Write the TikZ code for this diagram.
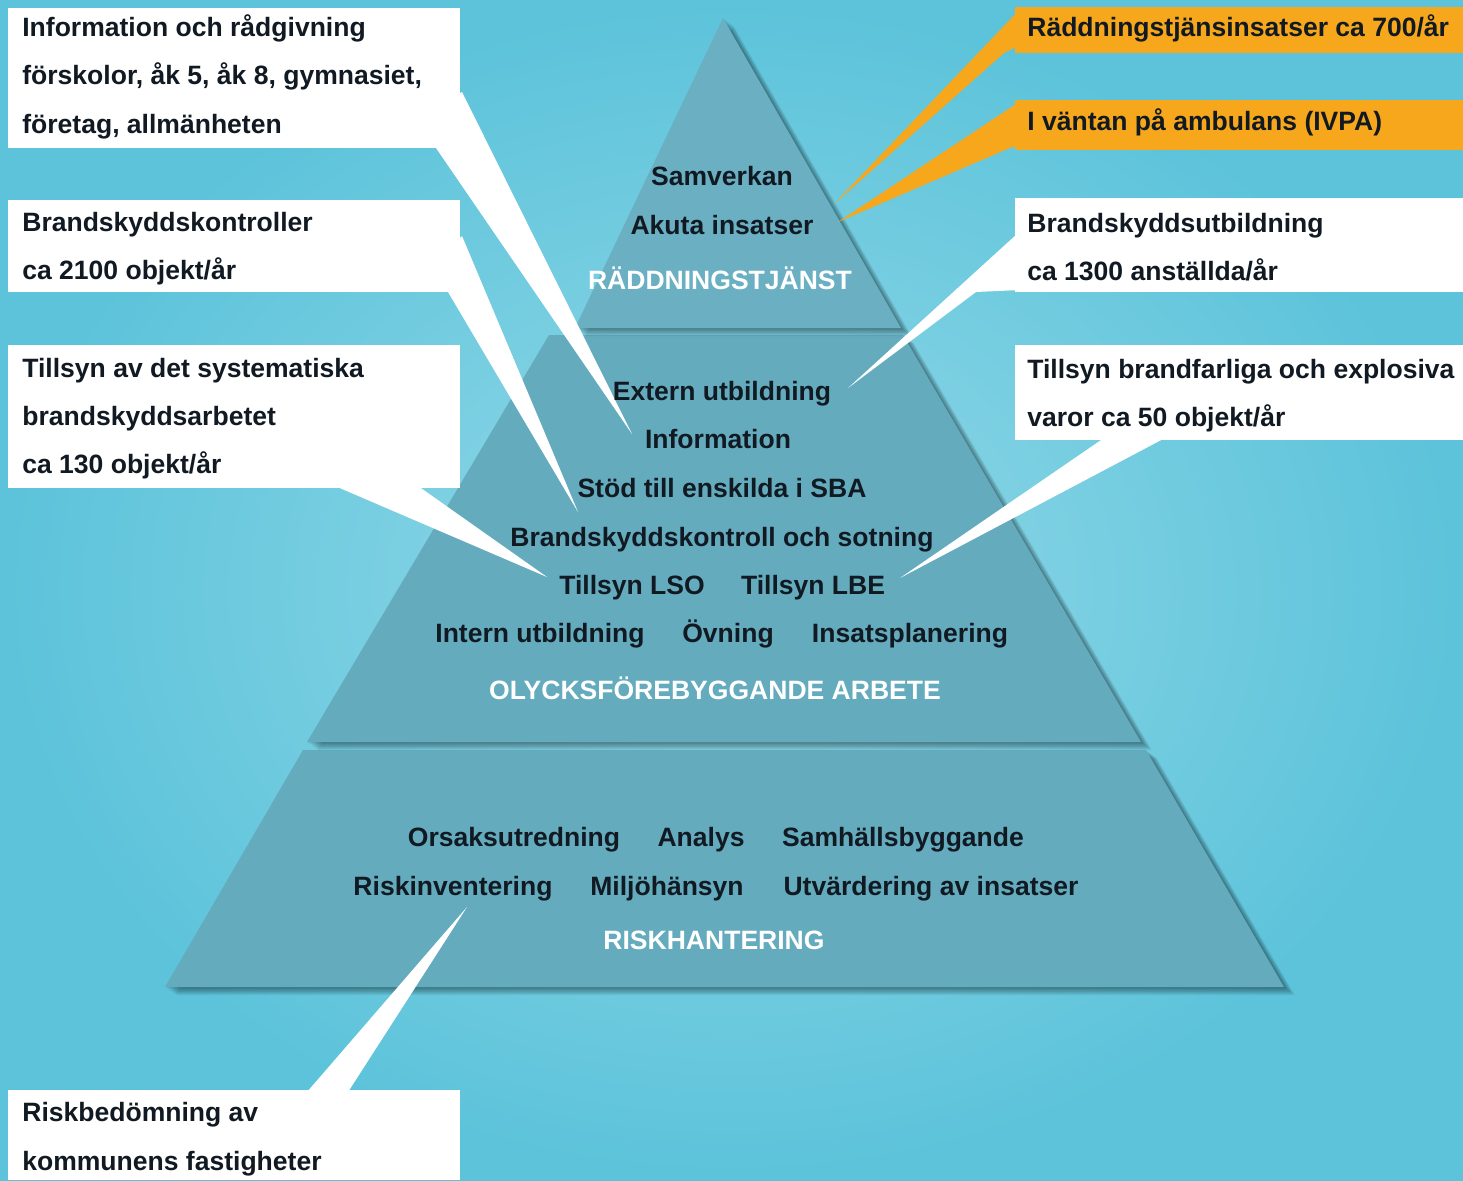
\documentclass[tikz,border=0pt]{standalone}
\usepackage{fontspec}
\setmainfont{Liberation Sans}
\usetikzlibrary{fit}
\definecolor{bglight}{HTML}{94D9E8}
\definecolor{bgdark}{HTML}{5CC3DA}
\definecolor{pyr}{HTML}{64ABBE}
\definecolor{pyrtop}{HTML}{6AB0C2}
\definecolor{textdark}{HTML}{111A22}
\definecolor{orangebox}{HTML}{F6A71C}
\begin{document}
\begin{tikzpicture}[x=0.02cm,y=-0.02cm,
  txt/.style={font=\fontsize{15.1pt}{18pt}\selectfont\bfseries, text=textdark, inner sep=0pt},
  pt/.style={txt, anchor=base},
  lt/.style={txt, anchor=base west},
  wt/.style={txt, anchor=base, text=white},
  whitebox/.style={fill=white, inner sep=0pt, draw=none},
  orangeboxst/.style={fill=orangebox, inner sep=0pt, draw=none},
  wedge/.style={fill=white},
  owedge/.style={fill=orangebox},
  tier/.style={fill=pyr},
  shadowlayer/.style={fill=black, opacity=0.05}
]
\useasboundingbox (0,0) rectangle (1463,1180);
% background
\shade[inner color=bglight, outer color=bgdark] (0,0) rectangle (1463,1180);

% pyramid: bottom tier
\foreach \i in {1,...,9}{
  \fill[shadowlayer, shift={(\i*1.2,\i*0.9)}] (303,750) -- (1146,750) -- (1284,987) -- (165,987) -- cycle;
}
\fill[tier] (303,750) -- (1146,750) -- (1284,987) -- (165,987) -- cycle;
% middle tier
\foreach \i in {1,...,9}{
  \fill[shadowlayer, shift={(\i*1.2,\i*0.9)}] (549,335) -- (903,335) -- (1141,742) -- (307,742) -- cycle;
}
\fill[tier] (549,335) -- (903,335) -- (1141,742) -- (307,742) -- cycle;
% top tier
\foreach \i in {1,...,9}{
  \fill[shadowlayer, shift={(\i*1.2,\i*0.9)}] (723,18) -- (901,328) -- (575,328) -- cycle;
}
\fill[fill=pyrtop] (723,18) -- (901,328) -- (575,328) -- cycle;

% callout boxes
\node[whitebox, fit={(8,8) (460,148)}] (b1) {};
\node[whitebox, fit={(8,200) (460,292)}] (b2) {};
\node[whitebox, fit={(8,345) (460,488)}] (b3) {};
\node[orangeboxst, fit={(1015,7) (1463,53)}] (b4) {};
\node[orangeboxst, fit={(1015,100) (1463,150)}] (b5) {};
\node[whitebox, fit={(1015,198) (1463,292)}] (b6) {};
\node[whitebox, fit={(1015,345) (1463,440)}] (b7) {};
\node[whitebox, fit={(8,1090) (460,1180)}] (b8) {};

% wedge tips
\coordinate (t1) at (632,434);
\coordinate (t2) at (578,512);
\coordinate (t3) at (547,577);
\coordinate (t4) at (834,204);
\coordinate (t5) at (838,222);
\coordinate (t6) at (848,388);
\coordinate (t7) at (900,578);
\coordinate (t8) at (467,907);

% wedges
\fill[wedge] (462,92) -- (t1) -- (436,148) -- (430,110) -- cycle;
\fill[wedge] (462,236) -- (t2) -- (448,292) -- (440,260) -- cycle;
\fill[wedge] (335,486) -- (t3) -- (418,486) -- cycle;
\fill[owedge] (1022,7) -- (t4) -- (1004,53) -- (1030,40) -- cycle;
\fill[owedge] (1022,100) -- (t5) -- (1005,150) -- (1030,140) -- cycle;
\fill[wedge] (1017,234) -- (t6) -- (976,292) -- (1020,290) -- cycle;
\fill[wedge] (1104,438) -- (t7) -- (1165,438) -- cycle;
\fill[wedge] (307,1092) -- (t8) -- (348,1092) -- cycle;

% box texts
\node[lt] (b1l1) at (22,36) {Information och rådgivning};
\node[lt] (b1l2) at (22,84.5) {förskolor, åk 5, åk 8, gymnasiet,};
\node[lt] (b1l3) at (22,133) {företag, allmänheten};
\node[lt] (b2l1) at (22,231) {Brandskyddskontroller};
\node[lt] (b2l2) at (22,279) {ca 2100 objekt/år};
\node[lt] (b3l1) at (22,377) {Tillsyn av det systematiska};
\node[lt] (b3l2) at (22,425) {brandskyddsarbetet};
\node[lt] (b3l3) at (22,473) {ca 130 objekt/år};
\node[lt] (b4l1) at (1027,36) {Räddningstjänsinsatser ca 700/år};
\node[lt] (b5l1) at (1027,130) {I väntan på ambulans (IVPA)};
\node[lt] (b6l1) at (1027,232) {Brandskyddsutbildning};
\node[lt] (b6l2) at (1027,280) {ca 1300 anställda/år};
\node[lt] (b7l1) at (1027,378) {Tillsyn brandfarliga och explosiva};
\node[lt] (b7l2) at (1027,426) {varor ca 50 objekt/år};
\node[lt] (b8l1) at (22,1121) {Riskbedömning av};
\node[lt] (b8l2) at (22,1170) {kommunens fastigheter};

% pyramid texts
\node[pt] (samverkan) at (722,185) {Samverkan};
\node[pt] (akuta) at (722,234) {Akuta insatser};
\node[wt] (rtj) at (720,289) {RÄDDNINGSTJÄNST};
\node[pt] (extern) at (722,400) {Extern utbildning};
\node[pt] (info) at (718,448) {Information};
\node[pt] (stod) at (722,497) {Stöd till enskilda i SBA};
\node[pt] (bks) at (722,546) {Brandskyddskontroll och sotning};
\node[pt] (lso) at (632,594) {Tillsyn LSO};
\node[pt] (lbe) at (813,594) {Tillsyn LBE};
\node[pt] (intern) at (540,642) {Intern utbildning};
\node[pt] (ovning) at (728,642) {Övning};
\node[pt] (insats) at (910,642) {Insatsplanering};
\node[wt] (ofa) at (715,699) {OLYCKSFÖREBYGGANDE ARBETE};
\node[pt] (orsak) at (514,846) {Orsaksutredning};
\node[pt] (analys) at (701,846) {Analys};
\node[pt] (samh) at (903,846) {Samhällsbyggande};
\node[pt] (riskinv) at (453,895) {Riskinventering};
\node[pt] (miljo) at (667,895) {Miljöhänsyn};
\node[pt] (utv) at (931,895) {Utvärdering av insatser};
\node[wt] (riskh) at (714,949) {RISKHANTERING};
\end{tikzpicture}
\end{document}
